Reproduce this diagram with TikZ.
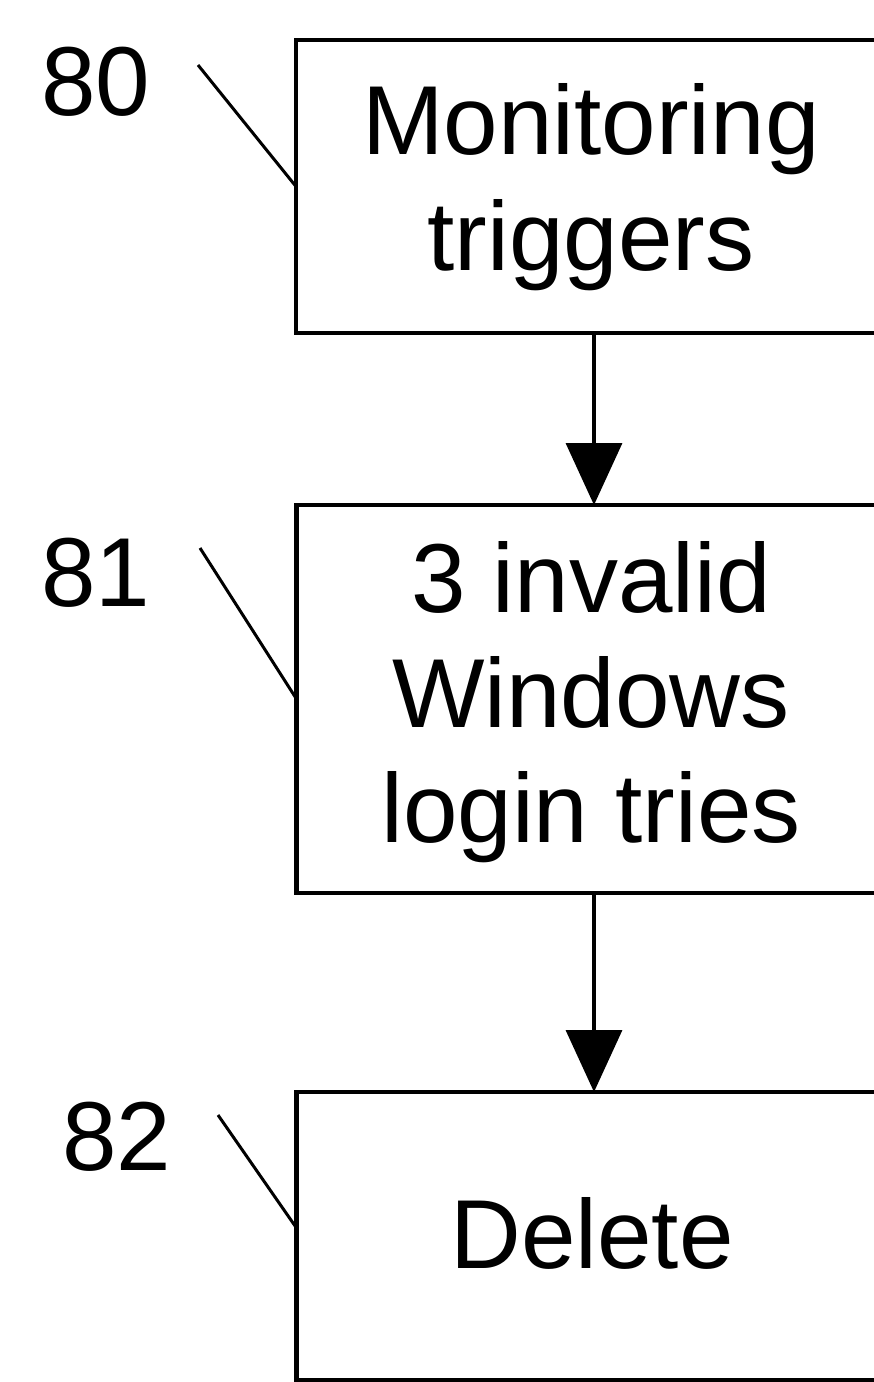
\documentclass[tikz,border=0pt]{standalone}
\usepackage{fontspec}
\setmainfont{Liberation Sans}
\usetikzlibrary{arrows.meta}
\begin{document}
\begin{tikzpicture}[x=1pt,y=-1pt,
  box/.style={draw,line width=4.5pt,minimum width=590pt,inner sep=0pt,outer sep=0pt},
  txt/.style={font=\fontsize{98}{115}\selectfont,inner sep=0pt,anchor=base},
  lbl/.style={font=\fontsize{98}{115}\selectfont,inner sep=0pt,anchor=base west},
  leader/.style={line width=3pt},
  arr/.style={line width=3.5pt,-{Triangle[width=56pt,length=62pt]}}]
\useasboundingbox (0,0) rectangle (874,1382);
\clip (0,0) rectangle (874,1382);
\fill[white] (0,0) rectangle (874,1382);
% boxes
\node[box,minimum height=293pt] (b1) at (591,186.5) {};
\node[box,minimum height=388pt] (b2) at (591.5,699) {};
\node[box,minimum height=288pt] (b3) at (591.5,1236) {};
% texts
\node[txt] (t1a) at (591,154) {Monitoring};
\node[txt] (t1b) at (591,270) {triggers};
\node[txt] (t2a) at (591,612) {3 invalid};
\node[txt] (t2b) at (591,727) {Windows};
\node[txt] (t2c) at (591,842) {login tries};
\node[txt] (t3a) at (592,1268) {Delete};
% reference labels
\node[lbl] (l80) at (41,115) {80};
\node[lbl] (l81) at (41,606) {81};
\node[lbl] (l82) at (62,1170) {82};
% leader lines
\coordinate (s80) at (198,65);
\coordinate (s81) at (200,548);
\coordinate (s82) at (218,1115);
\draw[leader] (s80) -- (b1.west);
\draw[leader] (s81) -- (b2.west);
\draw[leader] (s82) -- ([yshift=8pt]b3.west);
% arrows
\draw[arr] ([xshift=3pt]b1.south) -- ([xshift=2.5pt]b2.north);
\draw[arr] ([xshift=2.5pt]b2.south) -- ([xshift=2.5pt]b3.north);
\end{tikzpicture}
\end{document}
